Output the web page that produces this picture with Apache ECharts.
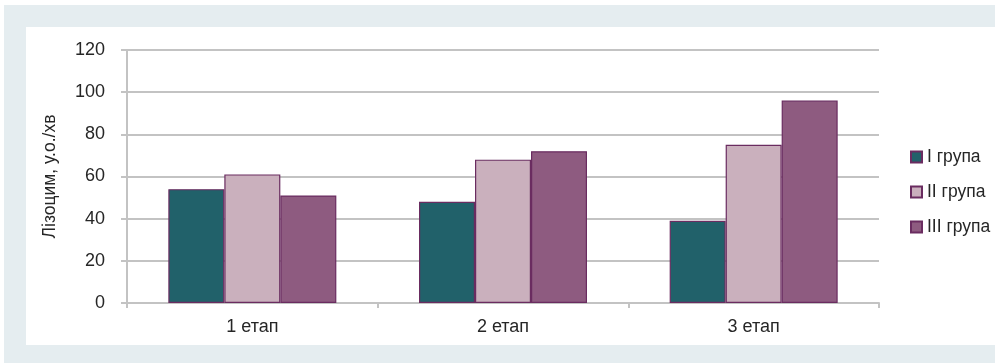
<!DOCTYPE html>
<html><head><meta charset="utf-8">
<script src="https://cdn.jsdelivr.net/npm/echarts@6/dist/echarts.min.js"></script>
<style>html,body{margin:0;padding:0;background:#fff}#c{width:995px;height:363px}</style>
</head><body><div id="c"></div>
<script>
const categories = ['1 етап', '2 етап', '3 етап'];
const seriesNames = ['I група', 'II група', 'III група'];
const group1 = [54, 48, 39];
const group2 = [61, 68, 75];
const group3 = [51, 72, 96];
const yTicks = { min: 0, max: 120, interval: 20 };
const colors = ['#21616a', '#cab0bd', '#8e5b80'];

const chart = echarts.init(document.getElementById('c'));
const font = 'Liberation Sans, Arial, sans-serif';
const mk = (name, data, color) => ({
  name, type: 'bar', data, barWidth: 56, barGap: '0%',
  itemStyle: { color, borderColor: '#6a2c60', borderWidth: 1.2 }
});
chart.setOption({
  animation: false,
  graphic: [
    { type: 'rect', z: -10, silent: true, shape: { x: 4, y: 5, width: 991, height: 358 }, style: { fill: '#e5edf0' } },
    { type: 'rect', z: -9, silent: true, shape: { x: 26, y: 27, width: 969, height: 318 }, style: { fill: '#ffffff' } }
  ],
  grid: { left: 127, right: 116, top: 50, bottom: 60 },
  legend: {
    orient: 'vertical', left: 905, top: 143, itemWidth: 11, itemHeight: 11, itemGap: 17,
    icon: 'rect',
    data: seriesNames,
    textStyle: { fontFamily: font, fontSize: 17.5, color: '#262626', padding: [0, 0, 0, 0] }
  },
  xAxis: {
    type: 'category', data: categories,
    axisLine: { lineStyle: { color: '#c3c3c3', width: 2 } },
    axisTick: { show: true, length: 5, lineStyle: { color: '#c3c3c3', width: 2 } },
    axisLabel: { fontFamily: font, fontSize: 18, color: '#262626', margin: 15 }
  },
  yAxis: {
    type: 'value', min: yTicks.min, max: yTicks.max, interval: yTicks.interval,
    name: 'Лізоцим, у.о./хв', nameLocation: 'middle', nameGap: 68, nameRotate: 90,
    nameTextStyle: { fontFamily: font, fontSize: 17.5, color: '#262626' },
    axisLine: { show: true, lineStyle: { color: '#c3c3c3', width: 2 } },
    axisTick: { show: true, length: 6, lineStyle: { color: '#c3c3c3', width: 2 } },
    axisLabel: { fontFamily: font, fontSize: 18, color: '#262626', margin: 22 },
    splitLine: { lineStyle: { color: '#c3c3c3', width: 2 } }
  },
  series: [mk(seriesNames[0], group1, colors[0]), mk(seriesNames[1], group2, colors[1]), mk(seriesNames[2], group3, colors[2])]
});
</script></body></html>
